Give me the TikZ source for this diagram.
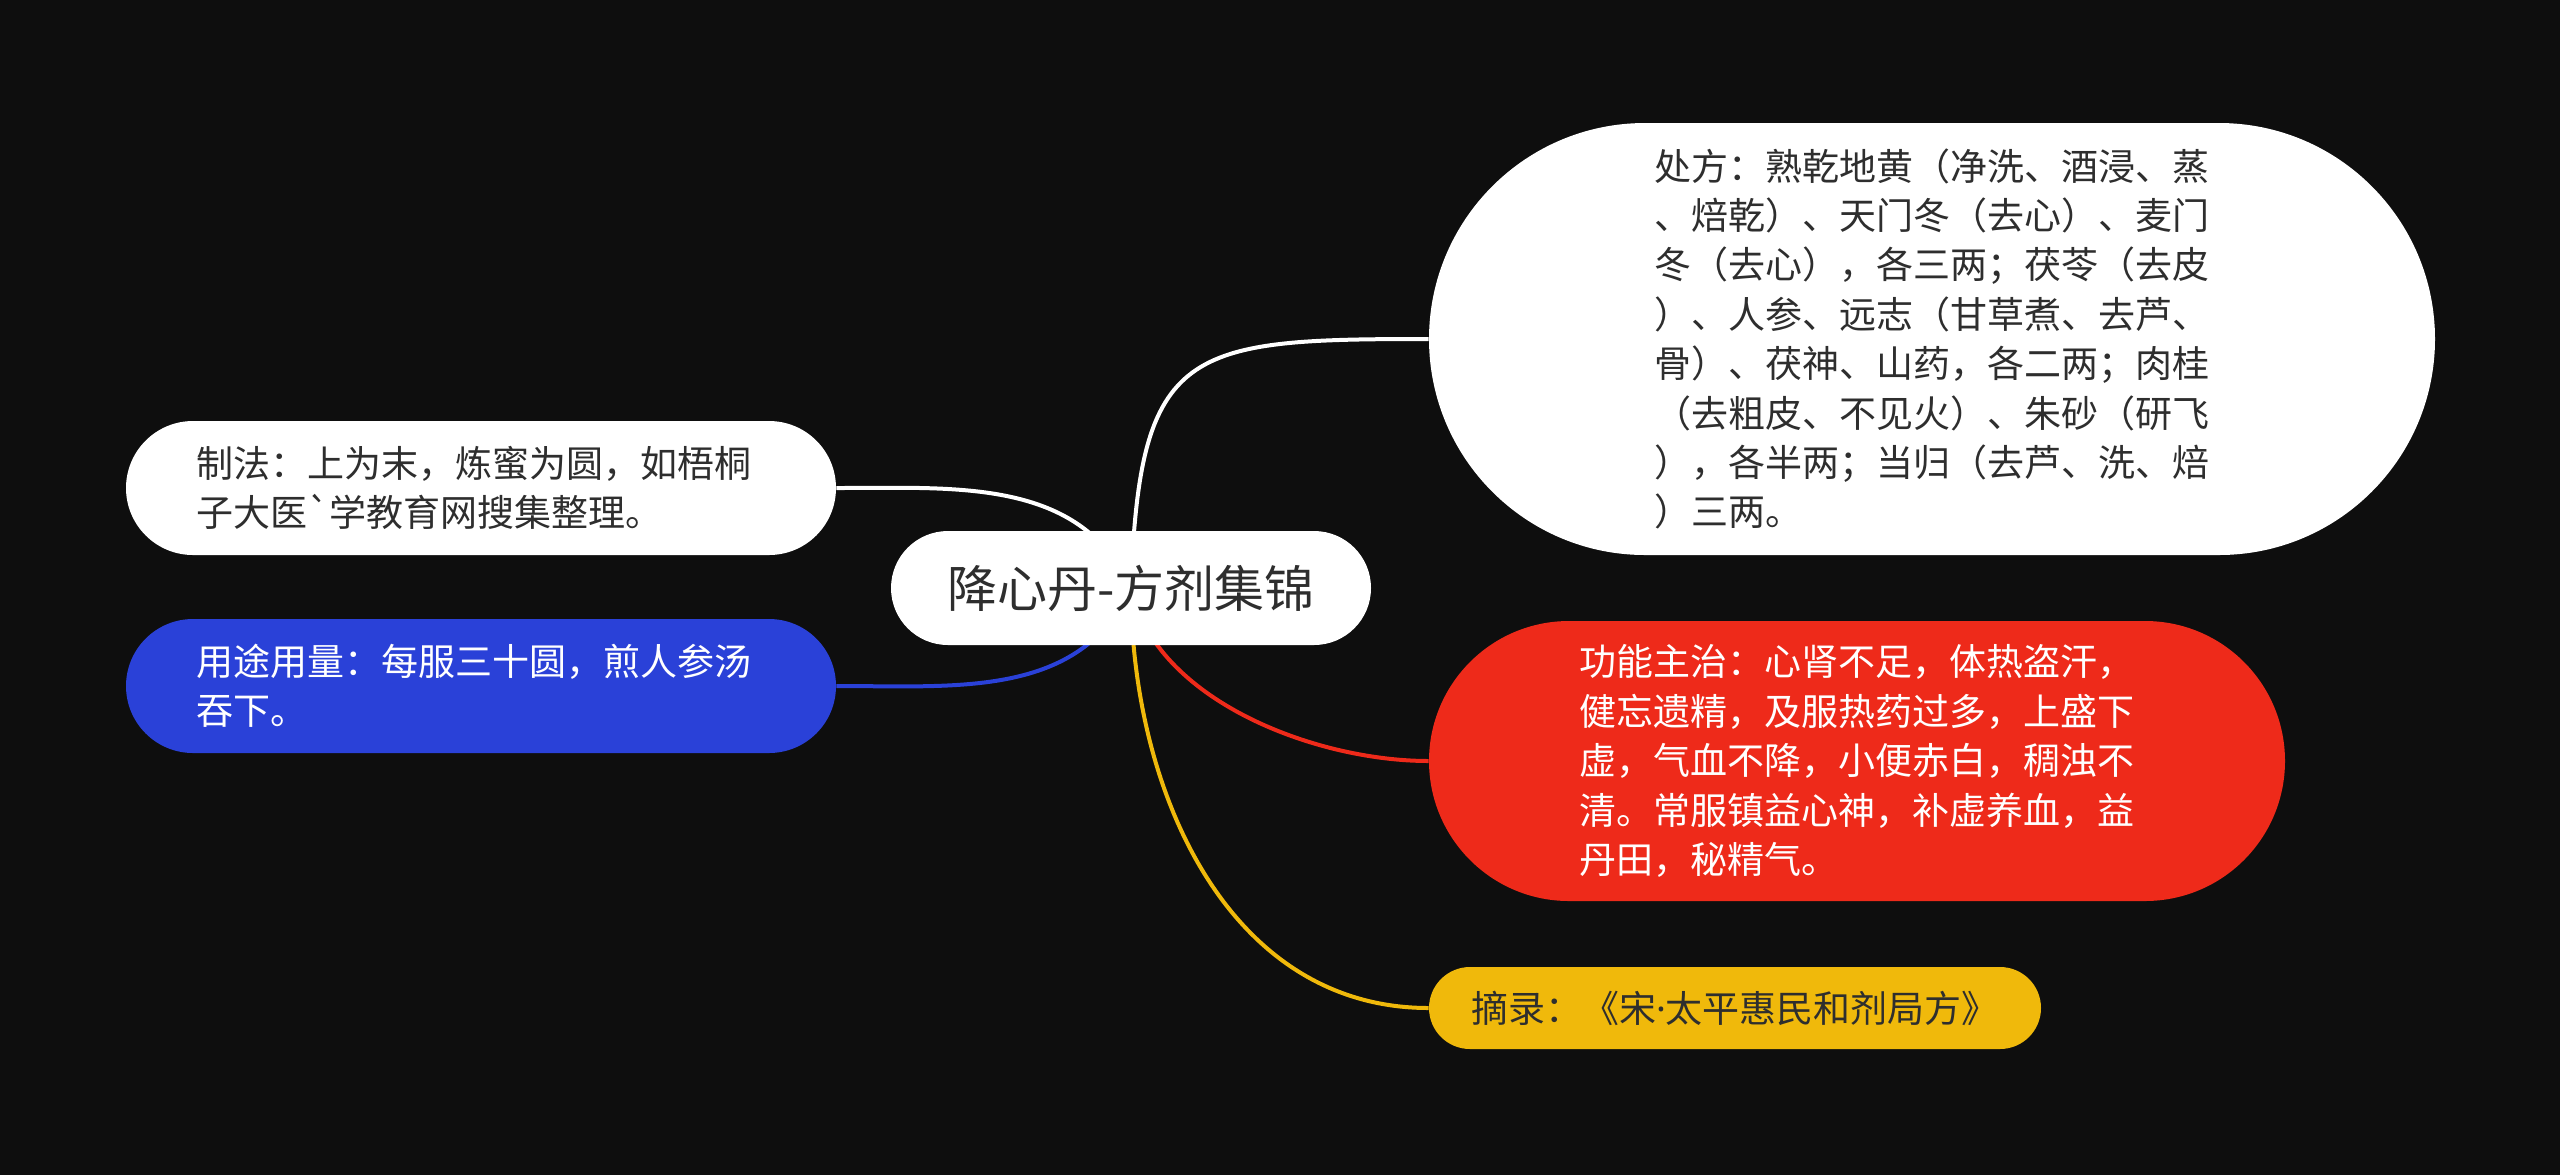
\documentclass[tikz,border=0pt]{standalone}
\usepackage{fontspec}
\setmainfont{Noto Sans CJK SC}[Ligatures=TeXOff]
\newfontfamily\latinfont{Noto Sans}
\usetikzlibrary{shapes.misc}
\definecolor{bgdark}{HTML}{0E0E0E}
\definecolor{nodeblue}{HTML}{2A41D8}
\definecolor{nodered}{HTML}{EE2A1A}
\definecolor{nodeyellow}{HTML}{F0B90B}
\definecolor{textdark}{HTML}{2E2E2E}
\pgfdeclarelayer{back}
\pgfdeclarelayer{links}
\pgfsetlayers{back,links,main}
\tikzset{
  topic/.style={rounded rectangle, inner sep=0pt, align=left,
    font=\fontsize{18.5pt}{24.7pt}\selectfont},
  link/.style={line width=2pt},
}

\begin{document}
\begin{tikzpicture}[x=0.5pt,y=-0.5pt]
  \begin{pgfonlayer}{back}
    \fill[bgdark] (0,0) rectangle (2560,1175);
  \end{pgfonlayer}
  \useasboundingbox (0,0) rectangle (2560,1175);
  % centre
  \node[topic, fill=white, text=textdark, minimum width=240pt, minimum height=57pt,
    font=\fontsize{25pt}{30pt}\selectfont] (root) at (1131,588) {降心丹-方剂集锦};
  % right side
  \node[topic, fill=white, text=textdark, minimum width=503pt, minimum height=216pt] (chufang) at (1932,339)
    {处方：熟乾地黄（净洗、酒浸、蒸\\、焙乾）、天门冬（去心）、麦门\\冬（去心），各三两；茯苓（去皮\\）、人参、远志（甘草煮、去芦、\\骨）、茯神、山药，各二两；肉桂\\（去粗皮、不见火）、朱砂（研飞\\），各半两；当归（去芦、洗、焙\\）三两。};
  \node[topic, fill=nodered, text=white, minimum width=428pt, minimum height=140pt] (gongneng) at (1857,761)
    {功能主治：心肾不足，体热盗汗，\\健忘遗精，及服热药过多，上盛下\\虚，气血不降，小便赤白，稠浊不\\清。常服镇益心神，补虚养血，益\\丹田，秘精气。};
  \node[topic, fill=nodeyellow, text=textdark, minimum width=306pt, minimum height=41pt] (zhailu) at (1735,1008)
    {摘录：《宋{\latinfont ·}太平惠民和剂局方》};
  % left side
  \node[topic, fill=white, text=textdark, minimum width=355pt, minimum height=67pt] (zhifa) at (481,488)
    {制法：上为末，炼蜜为圆，如梧桐\kern7pt\\子大医`学教育网搜集整理。};
  \node[topic, fill=nodeblue, text=white, minimum width=355pt, minimum height=67pt] (yongtu) at (481,686)
    {用途用量：每服三十圆，煎人参汤\kern7pt\\吞下。};
  % connectors
  \begin{pgfonlayer}{links}
    \draw[link, white] (root.center) to[out=88, in=180, looseness=1.6] (chufang.west);
    \draw[link, nodered] (root.center) to[out=-78, in=180, looseness=0.85] (gongneng.west);
    \draw[link, nodeyellow] (root.center) to[out=-90, in=180] (zhailu.west);
    \draw[link, white] (zhifa.east) to[out=0, in=115] (root.center);
    \draw[link, nodeblue] (yongtu.east) to[out=0, in=-115] (root.center);
  \end{pgfonlayer}
\end{tikzpicture}
\end{document}
